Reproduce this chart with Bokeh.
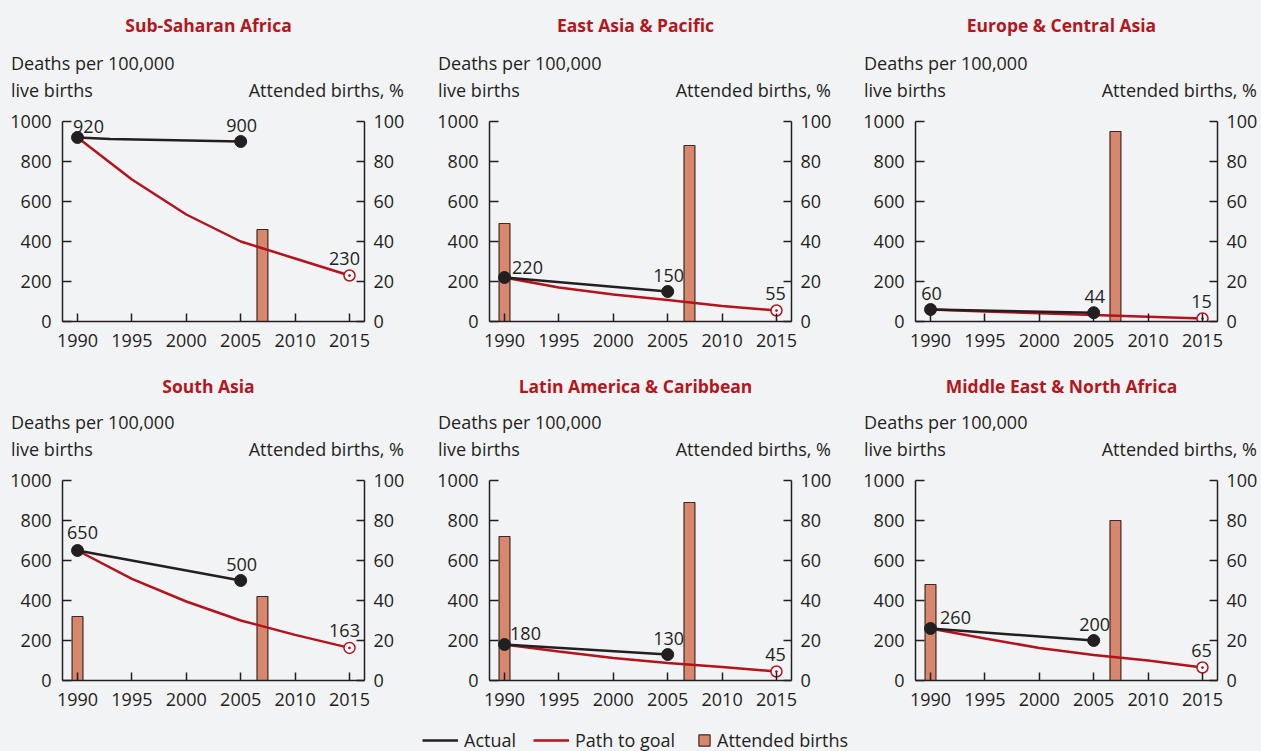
from bokeh.plotting import figure
from bokeh.models import Range1d, LinearAxis, Label, Legend, LegendItem, FixedTicker
from bokeh.layouts import column, row
from bokeh.embed import file_html
from bokeh.resources import INLINE

# ---------------- data ----------------
regions = ["Sub-Saharan Africa", "East Asia & Pacific", "Europe & Central Asia",
           "South Asia", "Latin America & Caribbean", "Middle East & North Africa"]

# Actual maternal mortality (deaths per 100,000 live births)
actual_years = [[1990, 1993, 2005], [1990, 2005], [1990, 2005],
                [1990, 2005], [1990, 2005], [1990, 2005]]
actual_ssa = [920, 912, 900]
actual_eap = [220, 150]
actual_eca = [60, 44]
actual_sa = [650, 500]
actual_lac = [180, 130]
actual_mena = [260, 200]

# Path to goal
path_years = [1990, 1995, 2000, 2005, 2010, 2015]
path_ssa = [920, 710, 535, 400, 315, 230]
path_eap = [220, 170, 135, 108, 77, 55]
path_eca = [60, 50, 41, 33, 24, 15]
path_sa = [650, 508, 395, 300, 228, 163]
path_lac = [180, 145, 112, 88, 67, 45]
path_mena = [260, 210, 163, 128, 100, 65]

goal_year = 2015
goals = [230, 55, 15, 163, 45, 65]

# Attended births, %
bar_years = [[2007], [1990, 2007], [2007], [1990, 2007], [1990, 2007], [1990, 2007]]
bar_ssa = [46]
bar_eap = [49, 88]
bar_eca = [95]
bar_sa = [32, 42]
bar_lac = [72, 89]
bar_mena = [48, 80]

x_ticks = [1990, 1995, 2000, 2005, 2010, 2015]
left_ticks = [0, 200, 400, 600, 800, 1000]
right_ticks = [0, 20, 40, 60, 80, 100]

left_caption = ["Deaths per 100,000", "live births"]
right_caption = "Attended births, %"
legend_labels = ["Actual", "Path to goal", "Attended births"]

actuals = [actual_ssa, actual_eap, actual_eca, actual_sa, actual_lac, actual_mena]
paths = [path_ssa, path_eap, path_eca, path_sa, path_lac, path_mena]
bars = [bar_ssa, bar_eap, bar_eca, bar_sa, bar_lac, bar_mena]

# ---------------- style / layout ----------------
BG = "#f2f3f5"
TXT = "#231f20"
RED = "#b5121b"
TITLE_RED = "#b2171d"
BAR = "#d9876c"
BAR_LINE = "#3a2a25"
FONT = "Open Sans"
FS = "18px"

X0, X1 = 1988.62, 2016.38
PAGE_W = 1261

fig_w = [434, 426, 401]
b_left = [62, 55, 55]
b_right = [70, 69, 44]
frame_left = [62, 489, 915]
FRAME_W = 302

# header strips (page y ranges) and chart rows
header_top = [0, 367]
header_h = [106, 99]
chart_h = [261, 245]
chart_bottom = [46, 31]
y_top = [1075, 1070]          # value at the frame top (1000 sits 15/14 px lower)
title_y = [24.5, 385]
cap1_y = [62.7, 421.7]
cap2_y = [89.3, 448.3]
title_dx = [-5, -5, -5]

# label offsets (px) for first-point labels of each panel
first_dx = [11, 23, 1, 5, 21, 25]
first_dy = [11, 10, 16, 18, 11, 11]


def txt_label(**kw):
    base = dict(text_font=FONT, text_font_size=FS, text_color=TXT,
                text_baseline="middle")
    base.update(kw)
    return Label(**base)


def header(r):
    top = header_top[r]
    h = header_h[r]
    hf = figure(width=PAGE_W, height=h, output_backend="svg",
                toolbar_location=None, title_location=None,
                x_range=Range1d(0, PAGE_W), y_range=Range1d(top + h, top),
                x_axis_type=None, y_axis_type=None, min_border=0,
                background_fill_color=BG, border_fill_color=BG,
                outline_line_color=None)
    for c in range(3):
        i = r * 3 + c
        fl = frame_left[c]
        hf.add_layout(Label(x=fl + FRAME_W / 2 + title_dx[c], y=title_y[r],
                            text=regions[i], text_align="center",
                            text_baseline="middle", text_font=FONT,
                            text_font_size="17.5px", text_font_style="bold",
                            text_color=TITLE_RED))
        hf.add_layout(txt_label(x=fl - 51.5, y=cap1_y[r], text=left_caption[0],
                                text_align="left"))
        hf.add_layout(txt_label(x=fl - 51.5, y=cap2_y[r], text=left_caption[1],
                                text_align="left"))
        hf.add_layout(txt_label(x=fl + FRAME_W + 39.5, y=cap2_y[r],
                                text=right_caption, text_align="right"))
    return hf


def chart(i):
    r, c = divmod(i, 3)
    p = figure(width=fig_w[c], height=chart_h[r], output_backend="svg",
               toolbar_location=None, title_location=None,
               x_range=Range1d(X0, X1), y_range=Range1d(0, y_top[r]),
               min_border_left=b_left[c], min_border_right=b_right[c],
               min_border_top=0, min_border_bottom=chart_bottom[r],
               background_fill_color=BG, border_fill_color=BG,
               outline_line_color=None)
    p.extra_y_ranges = {"pct": Range1d(0, y_top[r] / 10)}
    p.grid.visible = False

    for ax in [p.xaxis[0], p.yaxis[0]]:
        ax.axis_line_color = TXT
        ax.axis_line_width = 1.5
        ax.major_tick_line_color = TXT
        ax.major_tick_line_width = 1.5
        ax.major_tick_out = 0
        ax.minor_tick_line_color = None
        ax.major_label_text_font = FONT
        ax.major_label_text_font_size = FS
        ax.major_label_text_color = TXT
    p.xaxis.ticker = FixedTicker(ticks=x_ticks)
    p.xaxis.major_tick_in = 8
    p.xaxis.major_label_standoff = 12
    p.yaxis.ticker = FixedTicker(ticks=left_ticks)
    p.yaxis.bounds = (0, 1000)
    p.yaxis.major_tick_in = 9
    p.yaxis.major_label_standoff = 11

    rax = LinearAxis(y_range_name="pct", ticker=FixedTicker(ticks=right_ticks),
                     bounds=(0, 100),
                     axis_line_color=TXT, axis_line_width=1.5,
                     major_tick_line_color=TXT, major_tick_line_width=1.5,
                     major_tick_in=8, major_tick_out=0,
                     minor_tick_line_color=None,
                     major_label_text_font=FONT, major_label_text_font_size=FS,
                     major_label_text_color=TXT, major_label_standoff=9)
    p.add_layout(rax, "right")

    # bars
    p.vbar(x=bar_years[i], top=bars[i], width=1.0, bottom=0, y_range_name="pct",
           fill_color=BAR, line_color=BAR_LINE, line_width=1.2)

    # path to goal
    p.line(path_years, paths[i], line_color=RED, line_width=2.5)
    p.scatter([goal_year], [goals[i]], marker="circle_dot", size=11,
              fill_color="white", line_color=RED, line_width=1.5)

    # actual
    ay = actual_years[i]
    av = actuals[i]
    p.line(ay, av, line_color=TXT, line_width=2.5)
    p.scatter([ay[0], ay[-1]], [av[0], av[-1]], marker="circle", size=12,
              fill_color=TXT, line_color=TXT)

    # value labels
    p.add_layout(txt_label(x=ay[0], y=av[0], x_offset=first_dx[i],
                           y_offset=first_dy[i], text=str(av[0]),
                           text_align="center"))
    p.add_layout(txt_label(x=ay[-1], y=av[-1], x_offset=1, y_offset=16,
                           text=str(av[-1]), text_align="center"))
    gtxt = str(goals[i])
    p.add_layout(txt_label(x=goal_year, y=goals[i],
                           x_offset=-5 if len(gtxt) == 3 else -1, y_offset=17,
                           text=gtxt, text_align="center"))
    return p


figs = [chart(i) for i in range(6)]

# ---------------- legend strip ----------------
lf = figure(width=PAGE_W, height=40, output_backend="svg", toolbar_location=None,
            title_location=None,
            x_range=Range1d(0, 1), y_range=Range1d(0, 1),
            x_axis_type=None, y_axis_type=None, min_border=0,
            background_fill_color=BG, border_fill_color=BG,
            outline_line_color=None)
# legend-only renderers (their points lie outside the visible range)
r_a = lf.line(x=[0, 1], y=[-5, -5], line_color=TXT, line_width=2.5)
r_p = lf.line(x=[0, 1], y=[-5, -5], line_color=RED, line_width=2.5)
r_b = lf.vbar(x=[0.5], top=[-5], bottom=-6, width=0.1, fill_color=BAR,
              line_color=BAR_LINE, line_width=1.2)

common = dict(orientation="horizontal", glyph_height=14, label_standoff=6,
              spacing=17, padding=0, margin=0, border_line_alpha=0,
              background_fill_alpha=0, label_text_font=FONT,
              label_text_font_size=FS, label_text_color=TXT, label_height=18)
leg1 = Legend(items=[LegendItem(label=legend_labels[0], renderers=[r_a]),
                     LegendItem(label=legend_labels[1], renderers=[r_p])],
              location=(422, -1), glyph_width=36, **common)
leg2 = Legend(items=[LegendItem(label=legend_labels[2], renderers=[r_b])],
              location=(697, -1), glyph_width=14, **common)
lf.add_layout(leg1)
lf.add_layout(leg2)

bgstyle = {"background-color": BG}
layout = column(header(0), row(*figs[:3], styles=bgstyle), header(1),
                row(*figs[3:], styles=bgstyle), lf, styles=bgstyle)

open("out.html", "w").write(file_html(layout, INLINE))
